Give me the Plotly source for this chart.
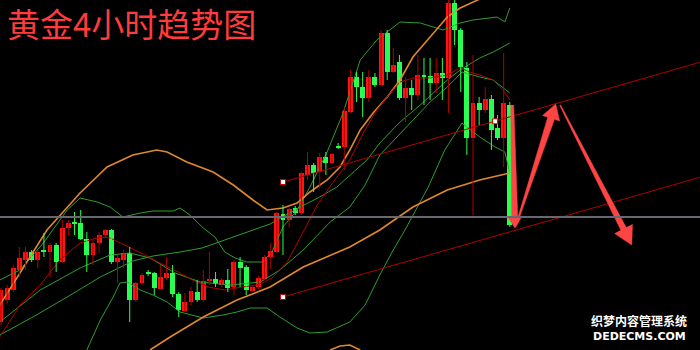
import numpy as np
import plotly.graph_objects as go

TITLE = "黄金4小时趋势图"
WATERMARK_CN = "织梦内容管理系统"
WATERMARK_EN = "DEDECMS.COM"

# ---- candles (price units) ----
opens = [28, 50, 60, 80, 90, 98, 90, 100, 98, 105, 88, 122, 128, 127, 111, 95, 107, 115, 120, 88,
         90, 97, 50, 67, 78, 77, 61, 72, 77, 56, 39, 48, 58, 50, 69, 71, 65, 70, 63, 88,
         83, 59, 63, 71, 93, 98, 136, 130, 142, 137, 175, 185, 178, 193, 187, 204, 203, 238, 273, 263,
         252, 273, 265, 317, 278, 288, 252, 262, 255, 275, 274, 267, 277, 272, 347, 320, 282, 212, 247, 240,
         251, 222, 212, 245]
highs = [62, 65, 85, 103, 103, 100, 100, 117, 107, 107, 130, 130, 138, 140, 118, 110, 118, 121, 121, 95,
         100, 103, 68, 77, 80, 78, 85, 93, 85, 58, 57, 63, 70, 80, 98, 78, 72, 81, 90, 93,
         85, 65, 74, 95, 107, 138, 145, 142, 144, 178, 198, 187, 197, 198, 197, 207, 242, 280, 278, 278,
         280, 277, 320, 320, 302, 295, 273, 270, 295, 292, 292, 292, 292, 350, 352, 322, 288, 295, 253, 263,
         255, 235, 297, 248]
lows = [25, 47, 58, 73, 80, 88, 82, 93, 73, 78, 87, 115, 115, 110, 78, 85, 97, 113, 86, 67,
        82, 28, 48, 65, 74, 55, 60, 70, 53, 33, 38, 45, 48, 48, 65, 63, 63, 58, 55, 63,
        55, 58, 61, 70, 81, 97, 95, 123, 135, 135, 170, 158, 162, 175, 186, 201, 180, 237, 248, 233,
        248, 263, 264, 270, 277, 250, 228, 240, 250, 245, 250, 257, 250, 237, 305, 258, 195, 135, 225, 237,
        200, 210, 183, 123]
closes = [60, 62, 82, 92, 98, 90, 98, 98, 105, 88, 122, 127, 126, 111, 95, 107, 115, 120, 88, 92,
          97, 50, 67, 75, 76, 62, 73, 77, 56, 40, 48, 59, 50, 69, 71, 66, 70, 62, 88, 82,
          60, 63, 72, 93, 99, 137, 130, 141, 137, 177, 185, 177, 193, 187, 196, 202, 239, 273, 263, 252,
          273, 265, 317, 278, 285, 252, 262, 255, 275, 273, 267, 277, 272, 347, 320, 283, 212, 247, 240, 251,
          220, 212, 247, 125]
bars = list(range(len(opens)))

# ---- indicator lines (bar index, value) ----
ma_red_x = [-0.2, 3.1, 6.4, 9.6, 12.9, 16.2, 17.8, 20.2, 23.5, 25.6, 28.9, 31.2, 33.8, 36.5, 39.3, 41.9,
            44.2, 46.7, 49.3, 51.6, 54.2, 56.9, 59.1, 61.3, 63.5, 65.1, 67.2, 70.0, 72.8, 74.9, 76.5,
            78.1, 80.3, 81.9, 83.0]
ma_red_y = [13, 45, 65, 90, 107, 113, 112, 105, 95, 88, 78, 70, 63, 60, 63, 65,
            72, 88, 118, 145, 168, 190, 217, 240, 257, 268, 272, 272, 275, 282, 278,
            275, 270, 260, 250]

ma_slow_x = [-0.2, 5.2, 10.8, 16.2, 21.5, 24.8, 29.2, 32.8, 36.5, 39.8, 43.9, 48.8, 52.0, 54.8, 57.4,
             59.7, 61.8, 65.1, 68.4, 71.1, 72.8, 74.9, 78.1, 80.3, 83.0]
ma_slow_y = [15, 33, 53, 73, 89, 94, 98, 102, 110, 117, 126, 143, 153, 163, 177,
             190, 207, 228, 245, 260, 270, 280, 292, 298, 307]

bb_mid_x = [-0.2, 6.4, 12.9, 17.8, 21.0, 24.3, 28.4, 32.5, 37.4, 42.3, 45.5, 49.3, 53.7, 56.9, 59.4,
            61.8, 64.6, 67.2, 70.0, 72.8, 75.2, 78.1, 80.3, 83.0]
bb_mid_y = [28, 60, 82, 95, 97, 92, 77, 68, 65, 68, 80, 100, 128, 143, 165,
            195, 213, 230, 248, 263, 278, 273, 270, 257]

bb_up_x = [-0.2, 3.1, 6.9, 10.8, 12.9, 15.7, 17.8, 19.9, 22.7, 24.8, 28.1, 29.2, 30.8, 33.0, 34.9, 36.5,
           38.2, 40.1, 42.6, 44.2, 46.0, 48.3, 50.4, 53.2, 55.8, 58.6, 61.3, 65.1, 68.4, 72.1, 74.9,
           77.0, 80.9, 82.2, 83.0]
bb_up_y = [70, 80, 107, 140, 152, 148, 143, 133, 137, 139, 139, 142, 135, 122, 113, 98,
           92, 88, 88, 98, 123, 140, 163, 198, 237, 290, 310, 328, 327, 320, 327,
           330, 333, 328, 342]

bb_low_x = [14.0, 16.2, 18.3, 19.4, 20.6, 22.7, 24.8, 27.1, 29.2, 33.0, 36.2, 38.5, 40.6, 43.4, 45.5,
            48.3, 50.4, 53.2, 56.9, 59.4, 61.8, 63.8, 65.9, 69.7, 72.4, 75.2, 76.2, 78.1, 80.6, 82.2, 83.0]
bb_low_y = [0, 30, 53, 67, 68, 60, 55, 48, 38, 32, 35, 38, 42, 42, 33,
            22, 17, 18, 28, 45, 75, 98, 120, 163, 200, 227, 222, 213, 203, 198, 177]

ma_orange_x = [-0.2, 7.5, 12.9, 17.3, 21.5, 25.4, 27.1, 30.3, 34.6, 37.9, 41.1, 43.4, 46.0, 48.3, 50.4,
               53.2, 55.3, 56.9, 58.6, 60.7, 63.0, 65.1, 67.2, 70.0, 72.8, 74.9, 77.7, 80.6]
ma_orange_y = [45, 120, 157, 183, 195, 200, 198, 188, 178, 165, 150, 140, 142, 147, 158,
               170, 183, 200, 220, 237, 253, 270, 293, 313, 333, 342, 350, 358]

ma_long_x = [24.3, 27.6, 33.0, 38.5, 43.9, 49.3, 56.9, 61.8, 67.2, 72.8, 78.1, 83.0]
ma_long_y = [0, 13, 33, 50, 63, 83, 103, 120, 143, 160, 170, 177]

band_low_orange_x = [53.7, 55.3, 56.9, 58.6]
band_low_orange_y = [0, 4, 5, 0]

# trend channel (start bar / end bar and values)
channel_x = [46.0, 114.0]
channel_upper = [168, 287.7]
channel_lower = [53, 172.7]
marker_x = [46.0, 46.0, 80.6]
marker_y = [168, 53, 228.7]

current_level = 133

# forecast arrows: (tail bar, tail value, tip bar, tip value)
arrows = [
    (83.4, 245, 83.85, 122),
    (84.0, 124, 90.5, 246),
    (91.2, 245, 102.9, 105),
]
arrow_sizes = [  # tail width, shaft width, head width, head length (px)
    (3, 6, 14, 11),
    (1, 7, 18, 15),
    (1, 6, 20, 18),
]

W, H = 700, 350
X_RANGE = [-0.163, 114.03]
Y_RANGE = [0, 350]
pb = W / (X_RANGE[1] - X_RANGE[0])
pu = H / (Y_RANGE[1] - Y_RANGE[0])

RED = "#ff1414"
RED_WICK = "#b00000"
GREEN = "#28ff50"
LINE_GREEN = "#2e9e2e"
DARK_RED = "#b40000"
ORANGE = "#e0882e"
ARROW = "#ff4444"

fig = go.Figure()

def line(x, y, color, width=1.0):
    fig.add_trace(go.Scatter(x=x, y=y, mode="lines", line=dict(color=color, width=width),
                             hoverinfo="skip"))

line(bb_low_x, bb_low_y, LINE_GREEN)
line(bb_up_x, bb_up_y, LINE_GREEN)
line(bb_mid_x, bb_mid_y, LINE_GREEN)
line(ma_slow_x, ma_slow_y, LINE_GREEN)
line(ma_long_x, ma_long_y, ORANGE, 1.6)
line(band_low_orange_x, band_low_orange_y, ORANGE, 1.6)
line(ma_orange_x, ma_orange_y, ORANGE, 1.6)
line(ma_red_x, ma_red_y, DARK_RED)

fig.add_hline(y=current_level, line=dict(color="#686872", width=2))

# wicks
up = [c >= o for o, c in zip(opens, closes)]
for is_up, col in [(True, RED_WICK), (False, GREEN)]:
    wx, wy = [], []
    for i in bars:
        if up[i] == is_up:
            wx += [i, i, None]
            wy += [lows[i], highs[i], None]
    fig.add_trace(go.Scatter(x=wx, y=wy, mode="lines", line=dict(color=col, width=1),
                             hoverinfo="skip"))

# bodies
fig.add_trace(go.Bar(
    x=bars, y=[c - o for o, c in zip(opens, closes)], base=opens, width=0.8,
    marker=dict(color=[RED if u else GREEN for u in up], line=dict(width=0)),
    hoverinfo="skip"))

# channel lines
line(channel_x, channel_upper, "#b00000")
line(channel_x, channel_lower, "#b00000")
fig.add_trace(go.Scatter(x=marker_x, y=marker_y, mode="markers",
                         marker=dict(symbol="square", size=5, color="white",
                                     line=dict(color="#d00000", width=1)),
                         hoverinfo="skip"))

def arrow_poly(x0, y0, x1, y1, tw, sw, hw, hl):
    A = np.array([x0 * pb, y0 * pu])
    B = np.array([x1 * pb, y1 * pu])
    d = B - A
    u = d / np.linalg.norm(d)
    n = np.array([-u[1], u[0]])
    base = B - u * hl
    pts = [A + n * tw / 2, base + n * sw / 2, base + n * hw / 2, B,
           base - n * hw / 2, base - n * sw / 2, A - n * tw / 2]
    return [p[0] / pb for p in pts], [p[1] / pu for p in pts]

for (x0, y0, x1, y1), (tw, sw, hw, hl) in zip(arrows, arrow_sizes):
    xs, ys = arrow_poly(x0, y0, x1, y1, tw, sw, hw, hl)
    fig.add_trace(go.Scatter(x=xs, y=ys, mode="lines", fill="toself", fillcolor=ARROW,
                             line=dict(color=ARROW, width=0.5), hoverinfo="skip"))

fig.add_annotation(text=TITLE, xref="paper", yref="paper", x=0.008, y=0.934,
                   xanchor="left", yanchor="middle", showarrow=False, borderpad=0,
                   font=dict(family="Noto Sans CJK SC", size=33, color="#ff3b3b"))
fig.add_annotation(text="<b>" + WATERMARK_CN + "</b>", xref="paper", yref="paper", x=0.913, y=0.083,
                   xanchor="center", yanchor="middle", showarrow=False,
                   font=dict(family="Noto Sans CJK SC", size=12, color="white"))
fig.add_annotation(text="<b>" + WATERMARK_EN + "</b>", xref="paper", yref="paper", x=0.913, y=0.04,
                   xanchor="center", yanchor="middle", showarrow=False,
                   font=dict(family="DejaVu Sans", size=11, color="white"))

fig.update_layout(
    width=W, height=H, margin=dict(l=0, r=0, t=0, b=0),
    paper_bgcolor="black", plot_bgcolor="black", showlegend=False,
    xaxis=dict(range=X_RANGE, visible=False, fixedrange=True),
    yaxis=dict(range=Y_RANGE, visible=False, fixedrange=True),
    bargap=0,
)
fig.write_html("out.html", config={"displayModeBar": False})
